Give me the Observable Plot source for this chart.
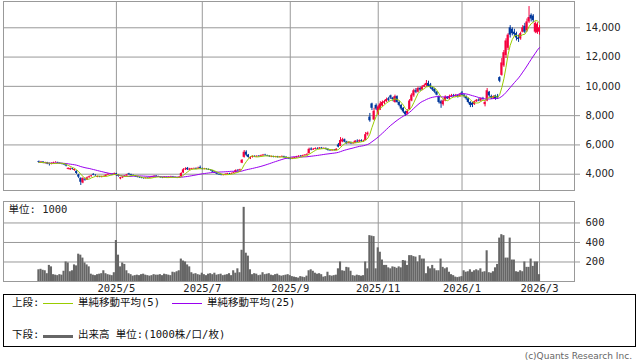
<!DOCTYPE html>
<html><head><meta charset="utf-8">
<script src="https://cdn.jsdelivr.net/npm/d3@7"></script>
<script src="https://cdn.jsdelivr.net/npm/@observablehq/plot@0.6"></script>
<style>
body{margin:0;background:#fff;}
#wrap{position:relative;width:638px;height:362px;overflow:hidden;background:#fff;}
#wrap svg{position:absolute;left:0;}
#wrap svg text{fill:#222;}
#wrap svg [aria-label$="axis tick"] path, #wrap svg .tick line{stroke:#999;}
.abs{position:absolute;white-space:nowrap;line-height:11px;font-size:10.5px;font-family:"DejaVu Sans Mono","Noto Sans CJK JP",monospace;color:#111;}
</style></head><body><div id="wrap"></div>
<script>
// ---- calendar (TSE trading days) ----
const startDate = "2025-03-07", endDate = "2026-03-02";
const holidays = ["2025-03-20","2025-04-29","2025-05-05","2025-05-06","2025-07-21","2025-08-11","2025-09-15","2025-09-23","2025-10-13","2025-11-03","2025-11-24","2025-12-31","2026-01-01","2026-01-02","2026-01-12","2026-02-11","2026-02-23"];
const monthLabels = ["2025/5","2025/7","2025/9","2025/11","2026/1","2026/3"];
const priceTicks = [4000,6000,8000,10000,12000,14000];
const volumeTicks = [200,400,600];
const unitLabel = "単位: 1000";
const legendTop = ["上段:","単純移動平均(5)","単純移動平均(25)"];
const legendBottom = ["下段:","出来高 単位:(1000株/口/枚)"];
const copyright = "(c)Quants Research Inc.";

// ---- daily prices (yen) ----
const open = [
4850,4790,4830,4760,4790,4700,4680,4730,4780,4790,
4750,4720,4690,4640,4330,4300,4380,4250,4200,3950,
3700,3400,3650,3600,3760,3830,3990,3930,3790,3820,
3790,3830,3850,3940,3990,4000,3960,4030,3900,3680,
3750,3830,3880,4020,3980,3920,3880,3830,3780,3750,
3710,3700,3730,3720,3760,3820,3870,3830,3790,3760,
3750,3790,3760,3800,3820,3780,3760,3740,3820,4080,
4300,4400,4280,4320,4360,4390,4360,4450,4380,4340,
4350,4320,4280,4240,4140,4070,3990,3960,3920,3950,
3990,4030,4010,4060,4100,4250,4230,4750,5150,5500,
5300,5050,5150,5200,5180,5220,5200,5250,5300,5270,
5230,5170,5200,5160,5190,5150,5170,5200,5150,5100,
5070,5030,5080,5120,5180,5220,5200,5260,5300,5400,
5720,5650,5700,5750,5720,5780,5740,5760,5700,5620,
5600,5640,5620,6000,5900,6200,6350,6200,6100,6150,
6080,6120,6250,6200,6280,6220,6300,6700,7900,8800,
7700,8700,8100,8400,8650,8850,8950,9150,9350,9200,
8900,9300,8900,8700,8500,8250,8100,8400,9000,9350,
9700,9600,9850,9750,9950,10050,10200,10100,9900,9800,
9600,9300,8950,8750,9000,9250,9150,9300,9350,9300,
9350,9300,9550,9400,9300,9150,8900,8850,8750,8950,
9050,9000,9150,8750,9000,9600,9300,9200,9350,9300,
10600,10750,11400,12100,12600,14000,13900,13700,13600,13300,
13250,13700,14100,13800,14400,14850,14800,13700,13650,13700];
const high = [
4900,4870,4860,4820,4810,4760,4780,4820,4860,4820,
4780,4750,4720,4680,4430,4420,4400,4360,4230,4000,
3760,3760,3720,3800,3870,3920,4030,3960,3870,3850,
3860,3880,3960,4030,4050,4020,4080,4060,3960,3790,
3840,3900,3990,4060,4000,3950,3900,3850,3810,3780,
3740,3760,3760,3790,3850,3900,3900,3860,3820,3790,
3820,3810,3830,3860,3850,3810,3780,3830,4100,4380,
4440,4460,4400,4400,4420,4430,4480,4560,4420,4400,
4390,4360,4320,4260,4170,4100,4020,3990,3980,4020,
4060,4060,4080,4140,4300,4320,4340,5000,5620,5600,
5350,5200,5250,5260,5260,5270,5300,5350,5360,5300,
5270,5240,5230,5220,5220,5210,5250,5230,5200,5150,
5120,5120,5160,5220,5270,5280,5300,5340,5400,5780,
5800,5760,5800,5800,5820,5830,5800,5790,5730,5660,
5680,5680,5740,6100,6500,6450,6400,6250,6220,6200,
6180,6300,6350,6340,6350,6320,6850,6880,8150,8850,
8500,8800,8700,8950,9000,9050,9200,9250,9400,9250,
9400,9350,9000,8750,8550,8300,8400,9100,9500,9800,
9850,9950,9950,10050,10150,10400,10350,10200,9950,9850,
9650,9350,9050,9100,9350,9300,9400,9450,9450,9450,
9400,9500,9650,9450,9350,9200,8950,8900,9000,9100,
9150,9200,9250,9000,9850,9650,9400,9350,9400,9450,
10650,11900,12450,13250,13600,14150,14000,13900,13700,13500,
13700,14150,14300,14600,15450,14950,14900,14400,14350,14150];
const low = [
4750,4740,4720,4700,4650,4560,4640,4700,4760,4720,
4680,4640,4600,4500,4300,4250,4280,4200,3980,3700,
3230,3350,3520,3570,3720,3800,3900,3860,3760,3760,
3750,3800,3830,3920,3950,3920,3940,3850,3800,3620,
3700,3800,3860,3930,3900,3850,3790,3750,3720,3690,
3660,3670,3680,3700,3740,3800,3800,3780,3730,3700,
3720,3730,3740,3770,3760,3730,3700,3720,3800,4060,
4250,4250,4250,4290,4330,4320,4330,4350,4300,4300,
4290,4250,4200,4100,4050,3960,3920,3890,3880,3930,
3970,3980,3990,4040,4080,4180,4200,4720,5100,5200,
5100,5000,5100,5140,5150,5160,5180,5220,5230,5200,
5150,5130,5120,5120,5100,5110,5140,5090,5020,5000,
4980,5000,5050,5100,5150,5160,5180,5230,5280,5380,
5600,5620,5660,5680,5700,5700,5700,5660,5580,5560,
5560,5580,5600,5800,5880,6150,6150,6020,6050,6020,
6050,6100,6150,6160,6180,6180,6280,6600,7550,8350,
7650,8350,8000,8350,8600,8750,8900,8950,9100,8950,
8850,8850,8600,8350,8150,7950,8050,8350,8950,9250,
9500,9550,9650,9700,9900,9950,9950,9800,9650,9500,
9350,8800,8500,8650,8950,9100,9100,9250,9250,9250,
9200,9250,9350,9200,9050,8800,8550,8550,8700,8900,
8950,8950,9050,8600,8950,9250,9100,9100,9050,9100,
10250,10700,11300,11900,12450,13300,13450,13400,13100,13000,
13150,13650,13600,13700,14300,14400,14350,13600,13550,13500];
const close = [
4800,4820,4760,4780,4700,4680,4720,4760,4800,4760,
4720,4690,4640,4560,4400,4380,4340,4320,4050,3800,
3450,3700,3600,3750,3820,3880,3930,3900,3840,3800,
3830,3850,3930,3990,4000,3960,4030,3920,3850,3760,
3800,3870,3950,3960,3930,3880,3830,3790,3760,3720,
3700,3740,3710,3760,3820,3860,3830,3800,3760,3740,
3790,3760,3800,3820,3790,3760,3730,3800,4050,4300,
4350,4300,4350,4360,4380,4350,4400,4380,4340,4360,
4330,4290,4250,4150,4080,4000,3960,3930,3950,3990,
4030,4010,4050,4100,4250,4230,4300,4950,5500,5300,
5150,5150,5200,5180,5220,5200,5250,5300,5270,5230,
5200,5200,5160,5190,5150,5170,5200,5140,5100,5060,
5030,5080,5120,5180,5220,5200,5260,5300,5350,5700,
5650,5700,5750,5720,5780,5740,5760,5700,5620,5600,
5640,5620,5700,5850,6300,6350,6200,6100,6150,6080,
6120,6250,6200,6280,6220,6260,6700,6800,7650,8500,
8300,8450,8600,8800,8900,8950,9100,9050,9200,9100,
9300,8900,8700,8450,8250,8050,8300,9000,9400,9700,
9600,9850,9750,9950,10050,10200,10000,9900,9750,9600,
9400,8900,8800,9000,9250,9150,9300,9350,9300,9350,
9300,9400,9400,9300,9150,8900,8700,8700,8950,9050,
9000,9150,9100,8900,9700,9350,9200,9300,9150,9200,
10350,11600,12300,13100,13500,13500,13600,13550,13300,13200,
13600,14000,13700,14400,14700,14600,14500,14300,14250,14000];
// ---- daily volume (1000 shares) ----
const volume = [
120,125,115,110,80,165,150,70,65,60,
70,65,105,200,190,100,110,170,160,280,
270,240,190,170,150,75,65,60,70,75,
80,110,80,70,65,60,90,420,270,150,
190,175,110,80,70,55,60,65,60,70,
75,65,60,55,60,70,65,65,70,60,
75,70,65,60,95,90,100,110,230,210,
200,170,150,90,75,80,70,65,85,70,
60,75,80,70,85,65,70,75,60,65,
70,80,60,110,85,130,90,320,760,290,
260,120,70,80,75,60,65,90,70,75,
80,65,60,70,75,60,55,60,65,70,
60,50,45,40,35,50,45,40,55,110,
120,105,85,75,80,70,45,50,95,60,
55,60,65,130,200,110,105,145,140,105,
60,55,65,60,55,60,200,130,470,465,
460,130,345,300,220,165,165,140,130,150,
145,135,150,140,215,210,165,265,265,255,
250,200,265,230,230,80,150,130,165,130,
110,110,230,145,130,140,95,70,60,45,
40,45,50,110,95,100,120,95,110,120,
110,130,95,100,315,90,85,100,140,175,
445,480,470,240,240,445,220,220,100,95,
110,100,200,145,145,230,155,200,200,70];

// ---- build table ----
const days = [];
for (let t = Date.parse(startDate + "T00:00:00Z"); t <= Date.parse(endDate + "T00:00:00Z"); t += 864e5) {
  const d = new Date(t), wd = d.getUTCDay(), s = d.toISOString().slice(0, 10);
  if (wd === 0 || wd === 6 || holidays.includes(s)) continue;
  days.push(s);
}
const n = Math.min(days.length, close.length);
const sma = k => close.map((_, i) => d3.mean(close.slice(Math.max(0, i - k + 1), i + 1)));
const ma5 = sma(5), ma25 = sma(25);
const data = d3.range(n).map(i => ({i, date: days[i], open: open[i], high: high[i], low: low[i], close: close[i], volume: volume[i], ma5: ma5[i], ma25: ma25[i]}));
const tickIdx = monthLabels.map(l => { const [y, m] = l.split("/"); const key = y + "-" + m.padStart(2, "0"); return days.findIndex(s => s.startsWith(key)); });
const xDomain = [-16.9, n - 1 + 16.7];

const UP = "#f5003d", DOWN = "#00379b", GRID = "#999";
const W = 638;
const col = d => d.close >= d.open ? UP : DOWN;

const price = Plot.plot({
  width: W, height: 191, marginTop: 1, marginBottom: 1, marginLeft: 3, marginRight: 64,
  style: {fontFamily: "DejaVu Sans, sans-serif", fontSize: "10px", color: "#999", background: "transparent", overflow: "visible"},
  x: {domain: xDomain, axis: null},
  y: {domain: [2887, 15796], axis: "right", ticks: priceTicks, tickSize: 5, tickPadding: 6, tickFormat: d3.format(","), label: null},
  marks: [
    Plot.ruleY(priceTicks, {stroke: GRID}),
    Plot.ruleX(tickIdx, {stroke: GRID}),
    Plot.frame({stroke: GRID}),
    Plot.ruleX(data, {x: "i", y1: "low", y2: "high", stroke: col, strokeWidth: 1}),
    Plot.rect(data, {x1: d => d.i - 0.5, x2: d => d.i + 0.5, y1: "open", y2: "close", fill: col}),
    Plot.line(data, {x: "i", y: "ma25", stroke: "#9a00f0", strokeWidth: 1}),
    Plot.line(data, {x: "i", y: "ma5", stroke: "#99cc00", strokeWidth: 1})
  ]
});
price.style.top = "0px";

const vol = Plot.plot({
  width: W, height: 95, marginTop: 1, marginBottom: 14, marginLeft: 3, marginRight: 64,
  style: {fontFamily: "DejaVu Sans Mono, monospace", fontSize: "10.5px", color: "#999", background: "transparent", overflow: "visible"},
  x: {domain: xDomain, axis: "bottom", ticks: tickIdx, tickFormat: d => monthLabels[tickIdx.indexOf(d)], tickSize: 0, tickPadding: 3, label: null},
  y: {domain: [0, 820], axis: "right", ticks: volumeTicks, tickSize: 5, tickPadding: 6, label: null},
  marks: [
    Plot.ruleY(volumeTicks, {stroke: GRID}),
    Plot.ruleX(tickIdx, {stroke: GRID}),
    Plot.rectY(data, {x1: d => d.i - 0.5, x2: d => d.i + 0.5, y: "volume", fill: "#666"}),
    Plot.frame({stroke: GRID}),
    Plot.text([unitLabel], {text: d => d, frameAnchor: "top-left", dx: 5, dy: 4, lineAnchor: "top", textAnchor: "start", fontSize: 10.5, fontFamily: "DejaVu Sans Mono, Noto Sans CJK JP, monospace", fill: "#222"})
  ]
});
vol.style.top = "200px";

const wrap = document.getElementById("wrap");
wrap.appendChild(price);
wrap.appendChild(vol);

// ---- legend ----
function addEl(html, css) { const e = document.createElement("div"); e.className = "abs"; e.textContent = html; Object.assign(e.style, css); wrap.appendChild(e); return e; }
addEl("", {left: "3px", top: "294px", width: "633px", height: "53px", border: "1px solid #000", boxSizing: "border-box"});
addEl(legendTop[0], {left: "12px", top: "297px"});
addEl("", {left: "43px", top: "302.5px", width: "30px", height: "0", borderTop: "1px solid #99cc00"});
addEl(legendTop[1], {left: "78px", top: "297px"});
addEl("", {left: "172px", top: "302.5px", width: "30px", height: "0", borderTop: "1px solid #9a00f0"});
addEl(legendTop[2], {left: "207px", top: "297px"});
addEl(legendBottom[0], {left: "12px", top: "329px"});
addEl("", {left: "43px", top: "334.5px", width: "30px", height: "3px", background: "#666"});
addEl(legendBottom[1], {left: "78px", top: "329px"});
addEl(copyright, {right: "6px", top: "352px", fontFamily: "DejaVu Sans, sans-serif", fontSize: "9px", lineHeight: "9px", color: "#666"});
</script></body></html>
